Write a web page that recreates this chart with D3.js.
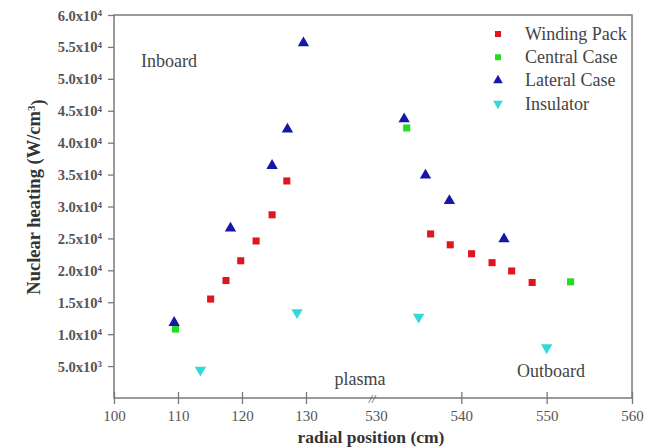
<!DOCTYPE html>
<html><head><meta charset="utf-8">
<script src="https://cdn.jsdelivr.net/npm/d3@7"></script>
<style>body{margin:0;background:#fff}svg{display:block}</style>
</head><body><svg id="c" width="654" height="448"></svg>
<script>
const xTicks = [100,110,120,130,530,540,550,560];
const yTicks = [5e3,1e4,1.5e4,2e4,2.5e4,3e4,3.5e4,4e4,4.5e4,5e4,5.5e4,6e4];
const seriesNames = ["Winding Pack","Central Case","Lateral Case","Insulator"];
const wpX = [115.1,117.5,119.8,122.2,124.7,127.0,536.4,538.7,541.2,543.6,545.9,548.3];
const wpY = [1.55e4,1.84e4,2.15e4,2.46e4,2.87e4,3.40e4,2.57e4,2.40e4,2.26e4,2.12e4,1.99e4,1.81e4];
const ccX = [109.6,533.6,552.8];
const ccY = [1.08e4,4.23e4,1.82e4];
const lcX = [109.4,118.2,124.7,127.1,129.6,533.3,535.8,538.6,545.0];
const lcY = [1.18e4,2.66e4,3.64e4,4.21e4,5.56e4,4.37e4,3.49e4,3.09e4,2.49e4];
const inX = [113.5,128.6,535.0,550.0];
const inY = [0.44e4,1.34e4,1.27e4,0.79e4];

const svg = d3.select("#c");
const L=114, R=632, T=15, B=398;
const x = d3.scaleLinear().domain([100,140,530,560]).range([L,370,376,R]);
const y = d3.scaleLinear().domain([0,6e4]).range([B,T]);
const axisCol = "#7a7a7a";
const serif = "'Liberation Serif','Times New Roman',serif";

// frame
svg.append("rect").attr("x",L).attr("y",T).attr("width",R-L).attr("height",B-T)
  .attr("fill","none").attr("stroke",axisCol).attr("stroke-width",1.5);

// x axis
const gx = svg.append("g").attr("transform",`translate(0,${B})`)
  .call(d3.axisBottom(x).tickValues(xTicks).tickSizeInner(6).tickSizeOuter(0).tickPadding(6).tickFormat(d3.format("d")));
gx.select(".domain").remove();
gx.selectAll(".tick line").attr("stroke",axisCol).attr("stroke-width",1.3).attr("y1",-6)
  .filter(d=>d===530).remove();
gx.selectAll(".tick text").attr("font-family",serif).attr("font-size",15).attr("fill","#555");

// y axis
const fmtY = v => v < 1e4 ? [(v/1e3).toFixed(1)+"x10","3"] : [(v/1e4).toFixed(1)+"x10","4"];
const gy = svg.append("g").attr("transform",`translate(${L},0)`)
  .call(d3.axisLeft(y).tickValues(yTicks).tickSizeInner(6).tickSizeOuter(0).tickPadding(5).tickFormat(""));
gy.select(".domain").remove();
gy.selectAll(".tick line").attr("stroke",axisCol).attr("stroke-width",1.3);
gy.selectAll(".tick").each(function(d){
  const f = fmtY(d);
  const t = d3.select(this).append("text").attr("x",-12).attr("dy","0.35em")
    .attr("text-anchor","end").attr("font-family",serif).attr("font-weight","bold")
    .attr("font-size",14.5).attr("fill","#555");
  t.append("tspan").text(f[0]);
  t.append("tspan").attr("dy","-0.5em").attr("font-size",9).text(f[1]);
});

// axis break
svg.append("text").attr("x",372).attr("y",B+5).attr("text-anchor","middle")
  .attr("font-family",serif).attr("font-size",12).attr("font-style","italic").attr("fill","#444").text("//");

// titles
svg.append("text").attr("x",371).attr("y",443).attr("text-anchor","middle")
  .attr("font-family",serif).attr("font-weight","bold").attr("font-size",17.5).attr("fill","#333")
  .text("radial position (cm)");
const yt = svg.append("text").attr("transform","translate(40,197) rotate(-90)").attr("text-anchor","middle")
  .attr("font-family",serif).attr("font-weight","bold").attr("font-size",18.5).attr("fill","#333");
yt.append("tspan").text("Nuclear heating (W/cm");
yt.append("tspan").attr("dy","-0.5em").attr("font-size",11).text("3");
yt.append("tspan").attr("dy","0.5em").text(")");

// annotations
const ann = [["Inboard",141,67,"start"],["Outboard",517,377,"start"],["plasma",360,385,"middle"]];
ann.forEach(a=>svg.append("text").attr("x",a[1]).attr("y",a[2]).attr("text-anchor",a[3])
  .attr("font-family",serif).attr("font-size",18).attr("fill","#444").text(a[0]));

// markers
const sq = d3.symbol().type(d3.symbolSquare).size(50);
const tri = d3.symbol().type(d3.symbolTriangle).size(56);
const series = [
  {xs:wpX, ys:wpY, col:"#e0161e", sym:sq, rot:0},
  {xs:ccX, ys:ccY, col:"#22dd22", sym:sq, rot:0},
  {xs:lcX, ys:lcY, col:"#1616a8", sym:tri, rot:0},
  {xs:inX, ys:inY, col:"#33d8d8", sym:tri, rot:180}
];
const order = [3,0,1,2];
order.forEach(i=>{
  const s = series[i];
  svg.append("g").selectAll("path").data(s.xs.map((v,j)=>[v,s.ys[j]])).join("path")
    .attr("d",s.sym).attr("fill",s.col)
    .attr("transform",d=>`translate(${x(d[0])},${y(d[1])}) rotate(${s.rot})`);
});

// legend
const lg = svg.append("g");
const lsq = d3.symbol().type(d3.symbolSquare).size(36);
const ltri = d3.symbol().type(d3.symbolTriangle).size(40);
seriesNames.forEach((n,i)=>{
  const s = series[i], yy = 34 + i*23.2;
  lg.append("path").attr("d",s.sym===sq?lsq:ltri).attr("fill",s.col).attr("transform",`translate(498,${yy}) rotate(${s.rot})`);
  lg.append("text").attr("x",525).attr("y",yy+6).attr("font-family",serif).attr("font-size",18)
    .attr("fill","#444").text(n);
});
</script></body></html>
